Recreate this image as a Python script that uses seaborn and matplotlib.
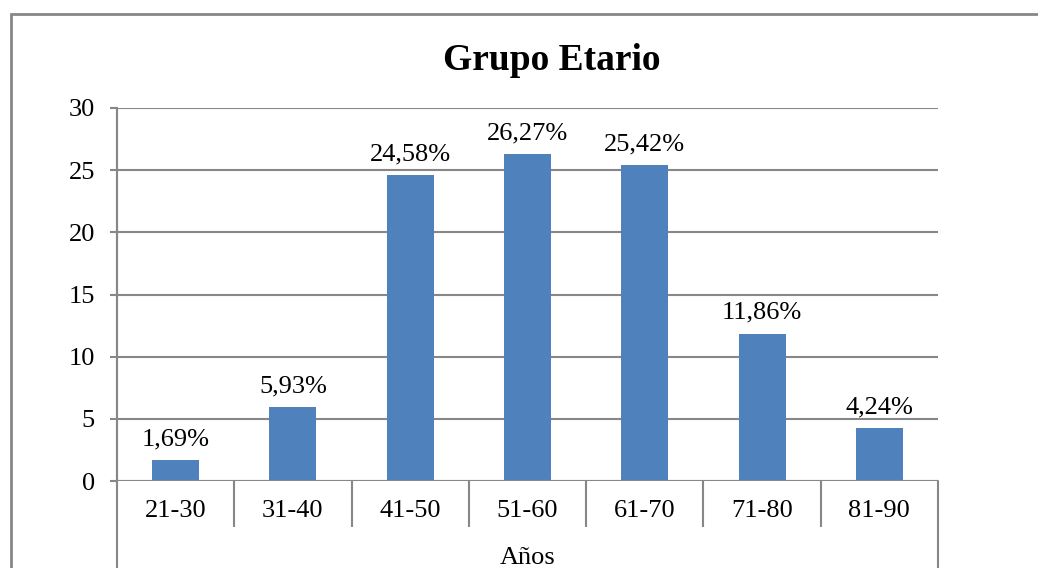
import seaborn as sns
import matplotlib.pyplot as plt
from matplotlib.patches import Rectangle
from matplotlib.ticker import FixedLocator

# datos del grafico
grupos = ['21-30', '31-40', '41-50', '51-60', '61-70', '71-80', '81-90']
porcentajes = [1.69, 5.93, 24.58, 26.27, 25.42, 11.86, 4.24]
etiquetas = ['1,69%', '5,93%', '24,58%', '26,27%', '25,42%', '11,86%', '4,24%']
yticks = [0, 5, 10, 15, 20, 25, 30]

sns.set_style('white')
plt.rcParams['font.family'] = ['Liberation Serif', 'DejaVu Serif']
plt.rcParams['text.color'] = 'black'
plt.rcParams['xtick.labelcolor'] = 'black'
plt.rcParams['ytick.labelcolor'] = 'black'
plt.rcParams['axes.labelcolor'] = 'black'

gris = '#878787'
fig = plt.figure(figsize=(10.38, 5.68), dpi=100)
ax = fig.add_axes([117 / 1038, 1 - 481 / 568, (938 - 117) / 1038, (481 - 108) / 568])

sns.barplot(x=grupos, y=porcentajes, color='#4F81BD', width=0.4, saturation=1,
            linewidth=0, ax=ax)
ax.bar_label(ax.containers[0], labels=etiquetas, padding=7, fontsize=19, color='black')

ax.set_ylim(0, 30)
ax.set_xlim(-0.5, len(grupos) - 0.5)
ax.set_yticks(yticks)
ax.grid(axis='y', color=gris, linewidth=1.5)
ax.set_axisbelow(True)

for lado in ['top', 'right', 'bottom']:
    ax.spines[lado].set_visible(False)
ax.spines['left'].set_color(gris)
ax.spines['left'].set_linewidth(1.5)

ax.tick_params(axis='y', length=5, width=1.5, color=gris, pad=11, labelsize=19, left=True)
ax.tick_params(axis='x', which='major', length=0, pad=14, labelsize=19)
ax.xaxis.set_minor_locator(FixedLocator([i + 0.5 for i in range(len(grupos) - 1)]))
ax.tick_params(axis='x', which='minor', length=33, width=1.5, color=gris, bottom=True)

# lineas verticales de los extremos
ax.axvline(-0.5, ymin=-0.4, ymax=1, color=gris, linewidth=1.5, clip_on=False)
ax.axvline(len(grupos) - 0.5, ymin=-0.4, ymax=0, color=gris, linewidth=1.5, clip_on=False)
ax.axhline(0, color=gris, linewidth=1.5, zorder=3)

ax.set_xlabel('Años', fontsize=19, labelpad=11, color='black')
ax.set_ylabel('')

fig.text(552 / 1038, 1 - 60 / 568, 'Grupo Etario', fontsize=27, fontweight='bold',
         ha='center', va='center', color='black')

# borde del area del grafico
fig.patches.append(Rectangle((11 / 1038, -0.2), 1.2, 1.2 - 14 / 568, transform=fig.transFigure,
                             fill=False, edgecolor=gris, linewidth=2, clip_on=False))

fig.savefig('out.png', dpi=100, facecolor='white')
